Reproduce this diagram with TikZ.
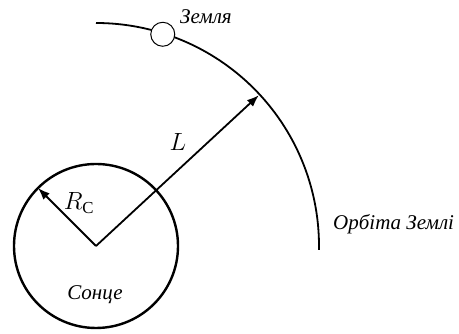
\documentclass[tikz,border=0pt]{standalone}
\usepackage{fontspec}
\setmainfont{Liberation Serif}
\usetikzlibrary{calc,arrows.meta}

\tikzset{
	lbl/.style={font=\fontsize{21}{24}\selectfont\itshape, inner sep=0pt},
	mathlbl/.style={font=\fontsize{24}{28}\selectfont, inner sep=0pt},
	radarrow/.style={line width=1.8pt, -{Latex[length=12pt,width=9pt]}}
}

\begin{document}
\begin{tikzpicture}[x=1pt,y=1pt]
			\useasboundingbox (0,0) rectangle (459,334);
			\coordinate (sun) at (96,88);
			\coordinate (rc) at ($(sun)+(135:82)$);
			\coordinate (orb) at ($(sun)+(42.8:222)$);
			% Sun
			\draw[line width=2.4pt] (sun) circle (82);
			\node[lbl] (sunname) at (95,39) {Сонце};
			% orbit
			\draw[line width=1.8pt] ($(sun)+(90:223)$) arc (90:-1:223);
			\node[lbl, anchor=west] (orbname) at (333,110) {Орбіта Землі};
			% Earth
			\node[circle, draw, fill=white, line width=1pt, minimum size=24pt, inner sep=0pt] (earth) at ($(sun)+(72.5:222)$) {};
			\node[lbl, anchor=west] (earthname) at (180,317) {Земля};
			
			\begin{scope}
			\draw[radarrow] (sun) -- (rc);
			\draw[radarrow] (sun) -- (orb);
			\end{scope}
			\node[mathlbl] (rclabel) at (79,131) {$R_{\mathrm{C}}$};
			\node[mathlbl] (llabel) at (178,192) {$L$};
\end{tikzpicture}
\end{document}
